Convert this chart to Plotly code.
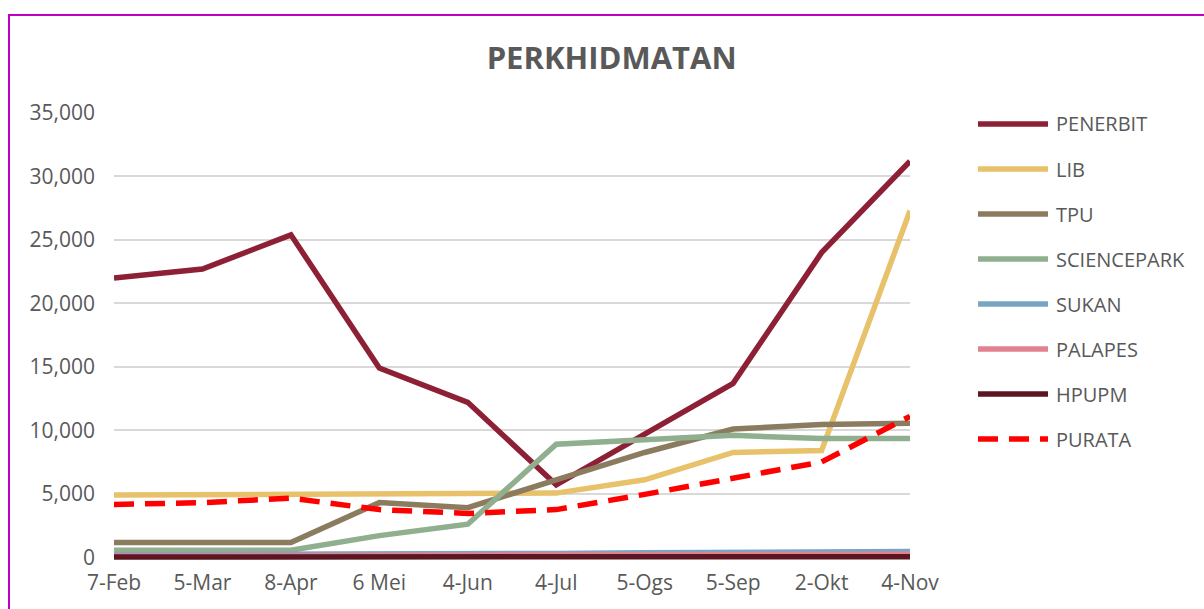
import plotly.graph_objects as go

# monthly service counts
tarikh = ['7-Feb', '5-Mar', '8-Apr', '6 Mei', '4-Jun', '4-Jul', '5-Ogs', '5-Sep', '2-Okt', '4-Nov']

penerbit = [22000, 22700, 25400, 14900, 12200, 5700, 9700, 13700, 24000, 31200]
lib = [4900, 4950, 5000, 5000, 5050, 5050, 6100, 8250, 8400, 27300]
tpu = [1150, 1150, 1150, 4300, 3900, 6100, 8250, 10100, 10450, 10550]
sciencepark = [550, 550, 550, 1700, 2600, 8900, 9300, 9600, 9350, 9350]
sukan = [200, 200, 200, 250, 250, 300, 350, 400, 450, 450]
palapes = [100, 100, 100, 120, 120, 150, 180, 200, 220, 230]
hpupm = [20, 20, 20, 25, 25, 30, 30, 35, 40, 40]
purata = [4150, 4300, 4650, 3750, 3450, 3750, 4950, 6200, 7500, 11100]

siri = [
    ('PENERBIT', penerbit, '#8E2035', 'solid'),
    ('LIB', lib, '#E8C16B', 'solid'),
    ('TPU', tpu, '#8B7B5F', 'solid'),
    ('SCIENCEPARK', sciencepark, '#8FAF8F', 'solid'),
    ('SUKAN', sukan, '#78A6C2', 'solid'),
    ('PALAPES', palapes, '#E2818F', 'solid'),
    ('HPUPM', hpupm, '#5B1622', 'solid'),
    ('PURATA', purata, '#FF0000', '20px,11px'),
]

FONT = 'Open Sans'
GREY = '#595959'

# plot area in pixels: x 114..910, y 113..561
PX_L, PX_W = 114, 796
PX_B, PX_H = 561, 448

def px2paper(px, py):
    return (px - PX_L) / PX_W, (PX_B - py) / PX_H

fig = go.Figure()
for nama, nilai, warna, dash in siri:
    fig.add_trace(go.Scatter(
        x=tarikh, y=nilai, name=nama, mode='lines',
        line=dict(color=warna, width=5.5, dash=dash),
    ))

fig.update_layout(
    width=1204, height=609,
    margin=dict(l=114, r=294, t=113, b=48),
    paper_bgcolor='white', plot_bgcolor='white',
    font=dict(family=FONT, color=GREY, size=21),
    title=dict(text='<b>PERKHIDMATAN</b>', x=0.508, xref='container', xanchor='center',
               y=0.905, yref='container', yanchor='middle',
               font=dict(family=FONT, size=31, color=GREY)),
    showlegend=False,
)
fig.update_xaxes(range=[0, 9], showgrid=False, showline=False, zeroline=False,
                 ticks='', tickfont=dict(size=21, color=GREY), ticklabelstandoff=7)
fig.update_yaxes(range=[-300, 35000], dtick=5000, tickformat=',', showgrid=True,
                 gridcolor='#D9D9D9', gridwidth=1.5, zeroline=False, showline=False,
                 ticks='', tickfont=dict(size=21, color=GREY), ticklabelstandoff=18)

# legend drawn by hand so the line samples are as long as the original ones
for i, (nama, nilai, warna, dash) in enumerate(siri):
    yy = 124 + 45 * i
    x0, y0 = px2paper(978, yy)
    x1, _ = px2paper(1048, yy)
    fig.add_shape(type='line', xref='paper', yref='paper', x0=x0, x1=x1, y0=y0, y1=y0,
                  line=dict(color=warna, width=5.5, dash=dash))
    tx, _ = px2paper(1054, yy)
    fig.add_annotation(x=tx, y=y0, xref='paper', yref='paper', xanchor='left', yanchor='middle',
                       text=nama, showarrow=False, font=dict(family=FONT, size=20, color=GREY))

# magenta frame around the chart (runs off the right and bottom edges)
fx0, fy1 = px2paper(9, 15)
fig.add_shape(type='rect', xref='paper', yref='paper',
              x0=fx0, x1=1.6, y0=-0.5, y1=fy1,
              line=dict(color='#C000C0', width=2), layer='above')

# page has a default 8px body margin, drop it so the chart sits at 0,0
fig.write_html('out.html', config={'displayModeBar': False},
               post_script="document.body.style.margin='0';")
